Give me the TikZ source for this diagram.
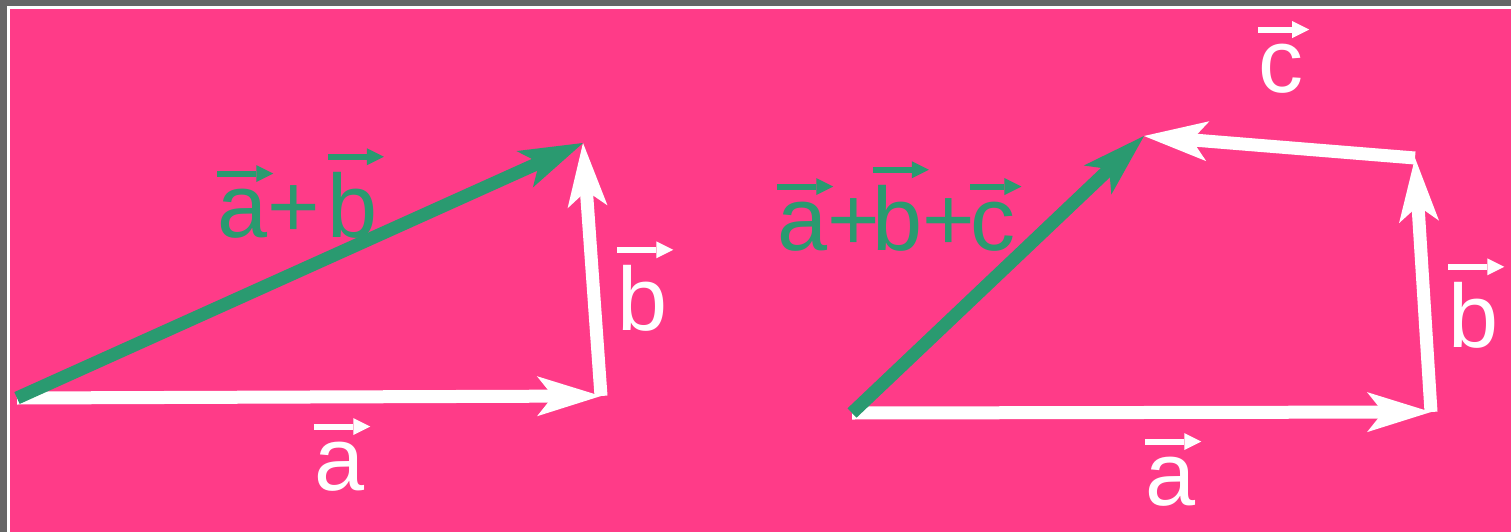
\documentclass[tikz,border=0pt]{standalone}
\usepackage{fontspec}
\setmainfont{Liberation Sans}
\usetikzlibrary{arrows.meta}
\definecolor{bgpink}{RGB}{255,59,136}
\definecolor{sumgreen}{RGB}{42,154,112}
\definecolor{framegray}{RGB}{102,102,102}
% letter with a little arrow above it
\newcommand\vecl[2][white]{\tikz[baseline=(v.base)]{\node[inner sep=0pt,outer sep=0pt,text=#1] (v) {#2};
\draw[overlay,#1,line width=6pt,-{Triangle[length=17pt,width=17pt,line width=0pt]}] ([yshift=15pt]v.north west)--([xshift=6pt,yshift=15pt]v.north east);}}

\begin{document}
\begin{tikzpicture}[x=1pt,y=-1pt,
  vecline/.style={line width=13pt,-{Stealth[length=64pt,width=40pt,inset=16pt,line width=0pt]}},
  lbl/.style={inner sep=0pt,anchor=base west,font=\fontsize{90}{100}\selectfont}]
\useasboundingbox (0,0) rectangle (1511,532);
\fill[framegray] (0,0) rectangle (1511,532);
\fill[white] (7,6) rectangle (1511,532);
\fill[bgpink] (9.5,9) rectangle (1511,532);
% triangle
\coordinate (ao) at (17,398);
\coordinate (ae) at (601,396);
\coordinate (be) at (583,143);
\draw[vecline,white] (ao) -- (ae);
\draw[vecline,white] (ae) -- (be);
\draw[vecline,sumgreen] (ao) -- (be);
\node[lbl,text=sumgreen] (ab) at (217,237) {\vecl[sumgreen]{a}+\kern8pt\vecl[sumgreen]{b}};
\node[lbl,text=white] (bl) at (617,330) {\vecl{b}};
\node[lbl,text=white] (al) at (314,490) {\vecl{a}};
% polygon
\coordinate (ro) at (852,413);
\coordinate (ra) at (1431,412);
\coordinate (rb) at (1415,158);
\coordinate (rc) at (1144,136);
\draw[vecline,white] (ro) -- (ra);
\draw[vecline,white] (ra) -- (rb);
\draw[vecline,white] (rb) -- (rc);
\draw[vecline,sumgreen] (ro) -- (rc);
\node[lbl,text=sumgreen] (abc) at (777,250) {\vecl[sumgreen]{a}+\kern-7pt\vecl[sumgreen]{b}+\kern-5pt\vecl[sumgreen]{c}};
\node[lbl,text=white] (cr) at (1258,93) {\vecl{c}};
\node[lbl,text=white] (br) at (1448,347) {\vecl{b}};
\node[lbl,text=white] (ar) at (1145,505) {\vecl{a}};
\end{tikzpicture}
\end{document}
